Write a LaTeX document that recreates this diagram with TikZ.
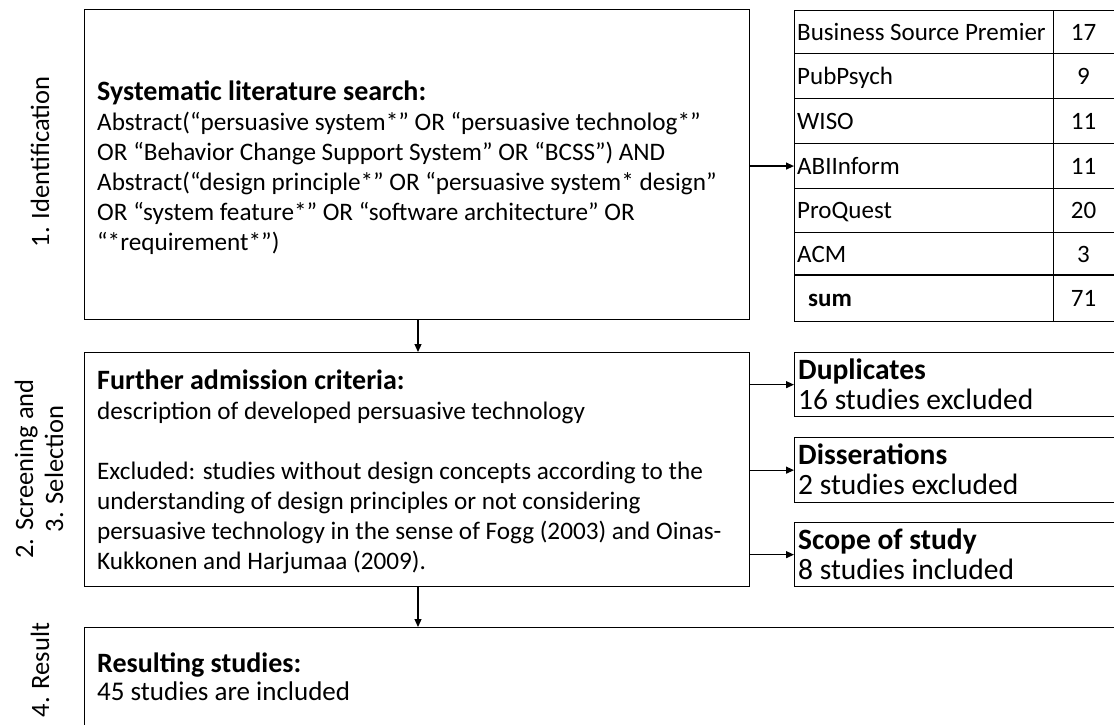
\documentclass[tikz,border=0pt]{standalone}
\usepackage{fontspec}
\setmainfont{Carlito}
\usetikzlibrary{arrows.meta}

\newcommand{\headline}[1]{{\fontsize{28}{30}\selectfont\bfseries #1}}

\begin{document}
\begin{tikzpicture}[x=1pt,y=-1pt,
  box/.style={draw, line width=1.3pt, inner sep=0pt, anchor=north west},
  cell/.style={draw, line width=1.1pt, inner sep=0pt, anchor=north west},
  conn/.style={line width=1.2pt, -{Triangle[length=8pt,width=7pt]}},
  body/.style={font=\fontsize{25.2}{30}\selectfont, align=left, inner sep=0pt, anchor=west},
  tabtxt/.style={font=\fontsize{25}{30}\selectfont, inner sep=0pt},
  outtxt/.style={font=\fontsize{29.5}{30}\selectfont, align=left, inner sep=0pt, anchor=west},
  phase/.style={font=\fontsize{26.5}{30}\selectfont, align=center, inner sep=0pt, rotate=90},
]
\clip (0,0) rectangle (1114,724);

% phase labels
\node[phase] (ph1) at (40,162) {1. Identification};
\node[phase] (ph2) at (39,469) {2. Screening and\\3. Selection};
\node[phase] (ph4) at (40,670) {4. Result};

% main boxes
\node[box, minimum width=665, minimum height=310] (search) at (84,9) {};
\node[box, minimum width=665, minimum height=234] (criteria) at (84,352) {};
\node[box, minimum width=1100, minimum height=200] (result) at (84,627) {};
\coordinate (axis) at (418,0);

\node[body] (searchtxt) at (97,168) {\headline{Systematic literature search:}\\
Abstract(“persuasive system*” OR “persuasive technolog*”\\
OR “Behavior Change Support System” OR “BCSS”) AND\\
Abstract(“design principle*” OR “persuasive system* design”\\
OR “system feature*” OR “software architecture” OR\\
“*requirement*”)};

\node[body] (criteriatxt) at (97,472) {\headline{Further admission criteria:}\\
description of developed persuasive technology\\[30pt]
Excluded: studies without design concepts according to the\\
understanding of design principles or not considering\\
persuasive technology in the sense of Fogg (2003) and Oinas-\\
Kukkonen and Harjumaa (2009).};

\node[body, font=\fontsize{27}{28}\selectfont] (resulttxt) at (97,677) {\headline{Resulting studies:}\\
45 studies are included};

% database table
\foreach \i/\top/\h in {1/10/43, 2/53/45, 3/98/45, 4/143/45, 5/188/44, 6/232/43, 7/275/46} {
  \node[cell, minimum width=259, minimum height=\h] (db\i) at (794,\top) {};
  \node[cell, minimum width=80, minimum height=\h] (num\i) at (1053,\top) {};
}
\foreach \i/\name/\n in {1/Business Source Premier/17, 2/PubPsych/9, 3/WISO/11,
  4/ABIInform/11, 5/ProQuest/20, 6/ACM/3} {
  \node[tabtxt, anchor=base west] (dbname\i) at ([xshift=3pt,yshift=-8pt]db\i.west) {\name};
  \node[tabtxt, anchor=base] (dbnum\i) at ([xshift=30.5pt,yshift=-8pt]num\i.west) {\n};
}
\node[tabtxt, anchor=base west, font=\fontsize{25}{30}\selectfont\bfseries] (dbname7) at ([xshift=14pt,yshift=-8pt]db7.west) {sum};
\node[tabtxt, anchor=base] (dbnum7) at ([xshift=30.5pt,yshift=-8pt]num7.west) {71};
\draw[line width=2.6pt] (db7.north west) -- (num7.north east);

% exclusion boxes
\node[box, minimum width=400, minimum height=64] (dup) at (794,352) {};
\node[box, minimum width=400, minimum height=65] (diss) at (794,437) {};
\node[box, minimum width=400, minimum height=64] (scope) at (794,522) {};
\node[outtxt] (duptxt) at (798,384) {{\bfseries Duplicates}\\16 studies excluded};
\node[outtxt] (disstxt) at (798,469.5) {{\bfseries Disserations}\\2 studies excluded};
\node[outtxt] (scopetxt) at (798,554) {{\bfseries Scope of study}\\8 studies included};

% connectors
\draw[conn] (search.east |- db4.west) -- (db4.west);
\draw[conn] (search.south -| axis) -- (criteria.north -| axis);
\draw[conn] (criteria.south -| axis) -- (result.north -| axis);
\draw[conn] (criteria.east |- dup.west) -- (dup.west);
\draw[conn] (criteria.east |- diss.west) -- (diss.west);
\draw[conn] (criteria.east |- scope.west) -- (scope.west);
\end{tikzpicture}
\end{document}
